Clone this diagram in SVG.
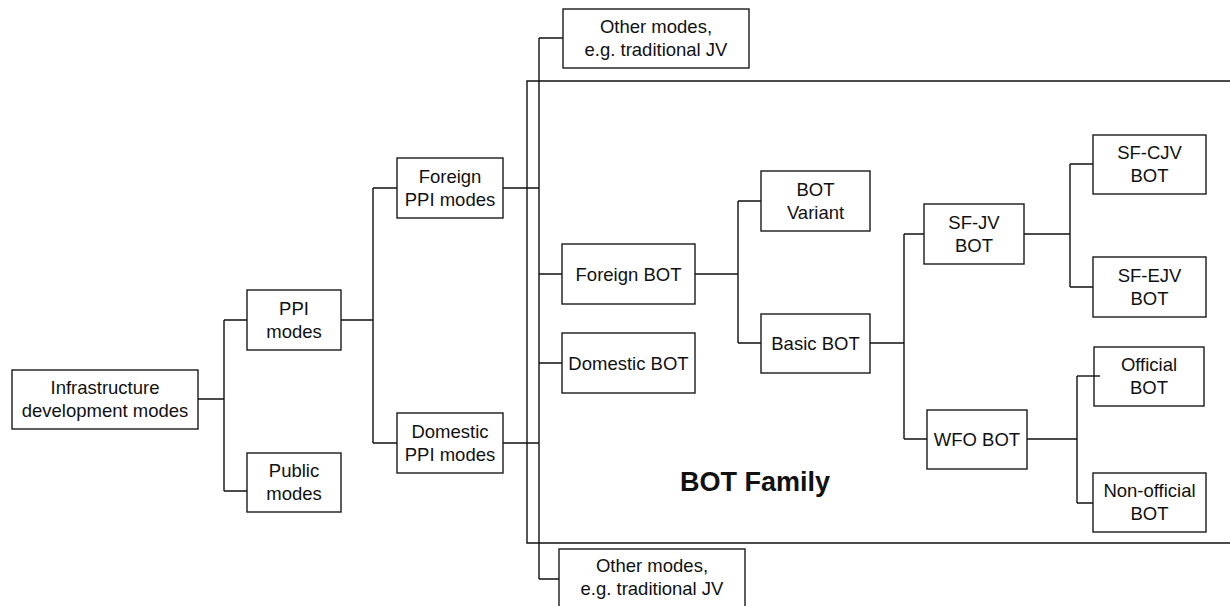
<svg xmlns="http://www.w3.org/2000/svg" width="1230" height="606" viewBox="0 0 1230 606">
<style>
.b{fill:#fff;stroke:#1a1a1a;stroke-width:1.4}
.t{font-family:"Liberation Sans",Arial,sans-serif;font-size:18.5px;fill:#111;text-anchor:middle}
.c{fill:none;stroke:#111;stroke-width:1.4}
.f{font-family:"Liberation Sans",Arial,sans-serif;font-size:27px;font-weight:bold;fill:#111;text-anchor:middle}
</style>
<rect width="1230" height="606" fill="#fff"/>
<g id="bot-family">
<path class="c" d="M1236,81 H527 V543 H1236"/>
<text class="f" x="755" y="491">BOT Family</text>
</g>
<g id="connectors">
<path class="c" d="M198,399 H224 M224,320 V491 M224,320 H247 M224,491 H247"/>
<path class="c" d="M341,320 H373 M373,188 V443 M373,188 H397 M373,443 H397"/>
<path class="c" d="M503,188 H539 M503,443 H539"/>
<path class="c" d="M539,38 V579 M539,38 H563 M539,274 H562 M539,363 H562 M539,579 H559"/>
<path class="c" d="M695,274 H738 M738,201 V343 M738,201 H761 M738,343 H761"/>
<path class="c" d="M870,343 H904 M904,234 V439 M904,234 H924 M904,439 H927"/>
<path class="c" d="M1024,234 H1070 M1070,164 V287 M1070,164 H1093 M1070,287 H1093"/>
<path class="c" d="M1027,439 H1077 M1077,376 V503 M1077,503 H1093"/>
</g>
<g id="infra"><rect class="b" x="12" y="370" width="186" height="59"/><text class="t" x="105" y="394">Infrastructure</text><text class="t" x="105" y="417">development modes</text></g>
<g id="ppi"><rect class="b" x="247" y="290" width="94" height="60"/><text class="t" x="294" y="315">PPI</text><text class="t" x="294" y="337.5">modes</text></g>
<g id="public"><rect class="b" x="247" y="453" width="94" height="59"/><text class="t" x="294" y="477">Public</text><text class="t" x="294" y="499.5">modes</text></g>
<g id="foreign-ppi"><rect class="b" x="397" y="158" width="106" height="60"/><text class="t" x="450" y="183">Foreign</text><text class="t" x="450" y="205.5">PPI modes</text></g>
<g id="domestic-ppi"><rect class="b" x="397" y="413" width="106" height="60"/><text class="t" x="450" y="438">Domestic</text><text class="t" x="450" y="460.5">PPI modes</text></g>
<g id="other-top"><rect class="b" x="563" y="9" width="186" height="59"/><text class="t" x="656" y="33">Other modes,</text><text class="t" x="656" y="56">e.g. traditional JV</text></g>
<g id="other-bottom"><rect class="b" x="559" y="549" width="186" height="62"/><text class="t" x="652" y="572">Other modes,</text><text class="t" x="652" y="595">e.g. traditional JV</text></g>
<g id="foreign-bot"><rect class="b" x="562" y="244" width="133" height="60"/><text class="t" x="628.5" y="280.5">Foreign BOT</text></g>
<g id="domestic-bot"><rect class="b" x="562" y="333" width="133" height="60"/><text class="t" x="628.5" y="369.5">Domestic BOT</text></g>
<g id="bot-variant"><rect class="b" x="761" y="171" width="109" height="60"/><text class="t" x="815.5" y="196">BOT</text><text class="t" x="815.5" y="218.5">Variant</text></g>
<g id="basic-bot"><rect class="b" x="761" y="314" width="109" height="59"/><text class="t" x="815.5" y="350">Basic BOT</text></g>
<g id="sf-jv-bot"><rect class="b" x="924" y="204" width="100" height="60"/><text class="t" x="974" y="229">SF-JV</text><text class="t" x="974" y="251.5">BOT</text></g>
<g id="wfo-bot"><rect class="b" x="927" y="410" width="100" height="59"/><text class="t" x="977" y="446">WFO BOT</text></g>
<g id="sf-cjv-bot"><rect class="b" x="1093" y="135" width="113" height="59"/><text class="t" x="1149.5" y="159">SF-CJV</text><text class="t" x="1149.5" y="181.5">BOT</text></g>
<g id="sf-ejv-bot"><rect class="b" x="1093" y="257" width="113" height="60"/><text class="t" x="1149.5" y="282">SF-EJV</text><text class="t" x="1149.5" y="304.5">BOT</text></g>
<g id="official-bot"><rect class="b" x="1094" y="347" width="110" height="59"/><text class="t" x="1149" y="371">Official</text><text class="t" x="1149" y="393.5">BOT</text></g>
<g id="non-official-bot"><rect class="b" x="1093" y="473" width="113" height="59"/><text class="t" x="1149.5" y="497">Non-official</text><text class="t" x="1149.5" y="519.5">BOT</text></g>
<path class="c" d="M1077,376 H1100"/>
</svg>
